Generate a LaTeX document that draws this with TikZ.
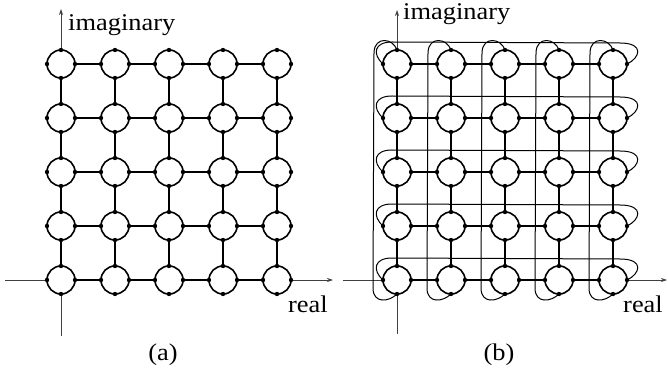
\documentclass[tikz,border=0pt]{standalone}
\usepackage{fontspec}
\setmainfont{Liberation Serif}
\usetikzlibrary{calc,arrows.meta}
\begin{document}
\begin{tikzpicture}[x=1pt,y=-1pt,
  ring/.style={circle,draw,line width=1.6pt,fill=white,minimum size=28pt,inner sep=0pt,outer sep=0pt},
  conn/.style={line width=1.2pt},
  axisline/.style={line width=0.8pt,draw=black!75,-{Stealth[length=6pt,width=4pt]}},
  lp/.style={line width=1pt},
  lbl/.style={inner sep=0pt,font=\fontsize{24}{28}\selectfont}]
\useasboundingbox (0,0) rectangle (668,374);
% axes
\coordinate (axl) at (5,280);   \coordinate (axr) at (333,280);
\coordinate (ayb) at (61,336);  \coordinate (ayt) at (61,9);
\coordinate (bxl) at (343,280); \coordinate (bxr) at (667,280);
\coordinate (byb) at (397,334); \coordinate (byt) at (397,10);
\draw[axisline] (axl) -- (axr);
\draw[axisline] (ayb) -- (ayt);
\draw[axisline] (bxl) -- (bxr);
\draw[axisline] (byb) -- (byt);
% rings
\foreach \c in {0,...,4}{
  \foreach \r in {0,...,4}{
    \node[ring] (a-\c-\r) at ({61+54*\c},{280-54*\r}) {};
    \node[ring] (b-\c-\r) at ({397+54*\c},{280-54*\r}) {};
  }
}
% connectors
\foreach \p in {a,b}{
  \foreach \c [evaluate=\c as \d using int(\c+1)] in {0,...,3}{
    \foreach \r in {0,...,4}{
      \draw[conn] (\p-\c-\r.east) -- (\p-\d-\r.west);
      \draw[conn] (\p-\r-\c.north) -- (\p-\r-\d.south);
    }
  }
}
% loops in (b)
\foreach \r in {0,...,4}{
  \draw[lp] (b-0-\r.west)
     .. controls ($(b-0-\r)+(-25,-10)$) and ($(b-0-\r)+(-23,-22)$) .. ($(b-0-\r)+(-5,-22)$)
     -- ($(b-4-\r)+(7,-21)$)
     .. controls ($(b-4-\r)+(32,-21)$) and ($(b-4-\r)+(27,-6)$) .. (b-4-\r.east);
}
\foreach \c in {0,...,4}{
  \draw[lp] (b-\c-4.north)
     .. controls ($(b-\c-4)+(-4,-26)$) and ($(b-\c-4)+(-22,-28)$) .. ($(b-\c-4)+(-23,-12)$)
     -- ($(b-\c-0)+(-24,8)$)
     .. controls ($(b-\c-0)+(-24,24)$) and ($(b-\c-0)+(-8,22)$) .. (b-\c-0.south);
}
% dots
\foreach \p in {a,b}{
  \foreach \c in {0,...,4}{
    \foreach \r in {0,...,4}{
      \foreach \an in {north,east,south,west}{
        \fill (\p-\c-\r.\an) circle (2.2pt);
      }
    }
  }
}
% labels
\node[lbl,anchor=base west] (ima) at (68,31) {\scalebox{1.1}[1]{imaginary}};
\node[lbl,anchor=base west] (rea) at (288,312) {\scalebox{1.1}[1]{real}};
\node[lbl,anchor=base west] (imb) at (403,20) {\scalebox{1.1}[1]{imaginary}};
\node[lbl,anchor=base west] (reb) at (623,312) {\scalebox{1.1}[1]{real}};
\node[lbl,anchor=base] (capa) at (163,360) {\scalebox{1.1}[1]{(a)}};
\node[lbl,anchor=base] (capb) at (499,360) {\scalebox{1.1}[1]{(b)}};
\end{tikzpicture}
\end{document}
